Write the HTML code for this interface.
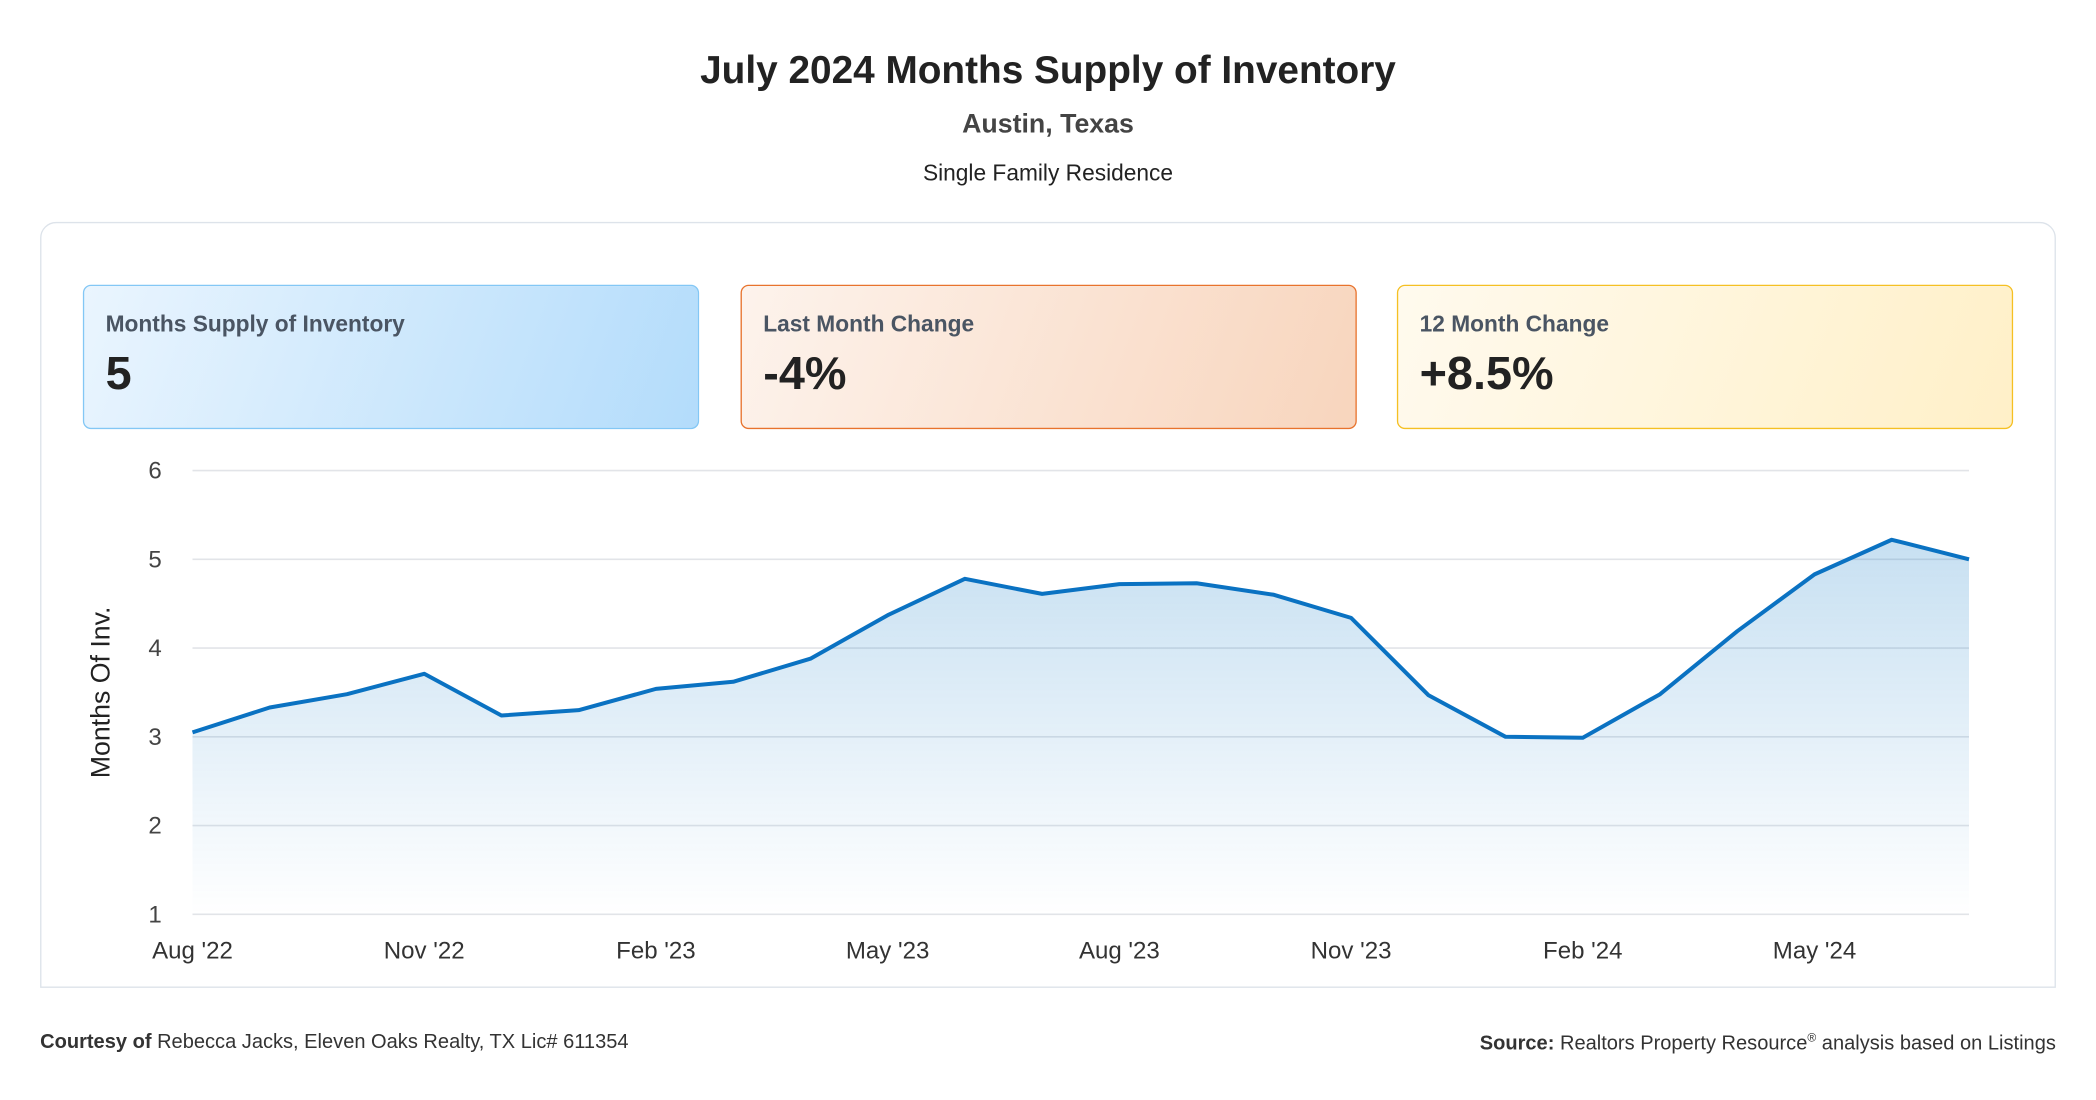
<!DOCTYPE html>
<html><head><meta charset="utf-8"><style>
html,body{margin:0;padding:0;background:#fff;width:2096px;height:1100px;overflow:hidden}
#wrap{position:absolute;left:0;top:0;width:1568px;height:823px;transform:scale(1.33673);transform-origin:0 0;font-family:"Liberation Sans",sans-serif;color:#222}
.c{position:absolute;left:0;width:1568px;text-align:center}
.card{position:absolute;top:213px;width:461px;height:108px;border-radius:6px;box-sizing:border-box}
.card .l{position:absolute;left:16px;top:19px;font-size:17px;font-weight:bold;color:#4a5563}
.card .v{position:absolute;left:16px;top:46px;font-size:35px;font-weight:bold;color:#222}
</style></head><body>
<div id="wrap">
<div class="c" style="top:37px;font-size:29px;font-weight:bold;color:#222">July 2024 Months Supply of Inventory</div>
<div class="c" style="top:82px;font-size:20px;font-weight:bold;color:#444">Austin, Texas</div>
<div class="c" style="top:120px;font-size:17px;color:#222">Single Family Residence</div>
<div style="position:absolute;left:30px;top:166px;width:1508px;height:573px;box-sizing:border-box;border:1.5px solid #dde3ea;border-radius:12px 12px 0 0"></div>
<div class="card" style="left:62px;border:1.5px solid #83c7f5;background:linear-gradient(110deg,#eaf5fe,#b3dcfb)"><div class="l">Months Supply of Inventory</div><div class="v">5</div></div>
<div class="card" style="left:554px;border:1.5px solid #e8732d;background:linear-gradient(110deg,#fdf3ec,#f8d5bd)"><div class="l">Last Month Change</div><div class="v">-4%</div></div>
<div class="card" style="left:1045px;border:1.5px solid #f5c023;background:linear-gradient(110deg,#fffaee,#fff0c8)"><div class="l">12 Month Change</div><div class="v">+8.5%</div></div>
<svg id="chart" style="position:absolute;left:0;top:0" width="1568" height="823">
<defs><linearGradient id="g" x1="0" y1="0" x2="0" y2="1"><stop offset="0" stop-color="#0071c2" stop-opacity="0.22"/><stop offset="1" stop-color="#0071c2" stop-opacity="0"/></linearGradient></defs>
<g id="grid"></g><path id="area" fill="url(#g)"/><path id="line" fill="none" stroke="#0a72c2" stroke-width="3" stroke-linejoin="round"/><g id="labels"></g>
<text transform="translate(82,518) rotate(-90)" text-anchor="middle" font-size="20" fill="#222" font-family="Liberation Sans,sans-serif">Months Of Inv.</text>
</svg>
<div style="position:absolute;left:30px;top:771px;font-size:15px;color:#333"><b>Courtesy of</b> Rebecca Jacks, Eleven Oaks Realty, TX Lic# 611354</div>
<div style="position:absolute;right:30px;top:771px;font-size:15px;color:#333"><b>Source:</b> Realtors Property Resource<sup style="font-size:9px">®</sup> analysis based on Listings</div>
</div>
<script>
const months=["Aug '22","Sep '22","Oct '22","Nov '22","Dec '22","Jan '23","Feb '23","Mar '23","Apr '23","May '23","Jun '23","Jul '23","Aug '23","Sep '23","Oct '23","Nov '23","Dec '23","Jan '24","Feb '24","Mar '24","Apr '24","May '24","Jun '24","Jul '24"];
const values=[3.05,3.33,3.48,3.71,3.24,3.30,3.54,3.62,3.88,4.37,4.78,4.61,4.72,4.73,4.60,4.34,3.47,3.00,2.99,3.48,4.19,4.83,5.22,5.00];
const yTicks=[1,2,3,4,5,6];
const xTickEvery=3;
const X0=144,X1=1473,Y0=684,Y1=352,ymin=1,ymax=6;
const sx=i=>X0+(X1-X0)*i/(months.length-1);
const sy=v=>Y0-(Y0-Y1)*(v-ymin)/(ymax-ymin);
const NS="http://www.w3.org/2000/svg";
const grid=document.getElementById('grid'),labels=document.getElementById('labels');
yTicks.forEach(t=>{
 const l=document.createElementNS(NS,'line');
 
 
 l.setAttribute('x1',X0);l.setAttribute('x2',X1);l.setAttribute('y1',sy(t));l.setAttribute('y2',sy(t));
 l.setAttribute('stroke','#e2e4e8');l.setAttribute('stroke-width','1.2');grid.appendChild(l);
 const tx=document.createElementNS(NS,'text');
 
 
 tx.setAttribute('x',121);tx.setAttribute('y',sy(t)+6);tx.setAttribute('text-anchor','end');
 tx.setAttribute('font-size','18');tx.setAttribute('fill','#444');tx.setAttribute('font-family','Liberation Sans,sans-serif');
 tx.textContent=t;labels.appendChild(tx);
});
months.forEach((m,i)=>{
 if(i%xTickEvery)return;
 const tx=document.createElementNS(NS,'text');
 
 
 tx.setAttribute('x',sx(i));tx.setAttribute('y',717);tx.setAttribute('text-anchor','middle');
 tx.setAttribute('font-size','18');tx.setAttribute('fill','#333');tx.setAttribute('font-family','Liberation Sans,sans-serif');
 tx.textContent=m;labels.appendChild(tx);
});
let d=values.map((v,i)=>(i?'L':'M')+sx(i)+','+sy(v)).join(' ');
document.getElementById('line').setAttribute('d',d);
document.getElementById('area').setAttribute('d',d+' L'+sx(values.length-1)+','+Y0+' L'+X0+','+Y0+' Z');
</script>
</body></html>
